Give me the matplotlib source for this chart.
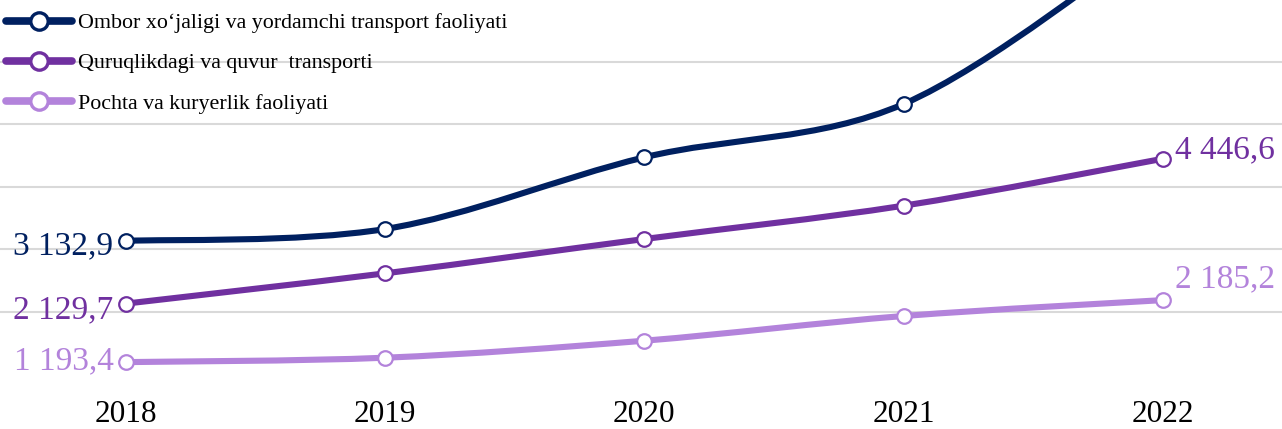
import numpy as np
import matplotlib.pyplot as plt
from matplotlib.path import Path
from matplotlib.patches import PathPatch
from matplotlib.lines import Line2D

years = [2018, 2019, 2020, 2021, 2022]
ombor = [3132.9, 3323, 4470, 5323, 8050]
quruqlik = [2129.7, 2614, 3163, 3696, 4446.6]
pochta = [1193.4, 1264, 1536, 1931, 2185.2]

names = ["Ombor xo\u2018jaligi va yordamchi transport faoliyati",
         "Quruqlikdagi va quvur  transporti",
         "Pochta va kuryerlik faoliyati"]
colors = ["#002060", "#7030A0", "#B383DB"]

plt.rcParams['font.family'] = ['Liberation Serif', 'DejaVu Serif']


def smooth_path(x, y):
    # catmull-rom style bezier, like excel's smoothed line
    p = np.column_stack([x, y]).astype(float)
    n = len(p)
    verts = [p[0]]
    codes = [Path.MOVETO]
    for i in range(n - 1):
        prev = p[max(i - 1, 0)]
        nxt = p[min(i + 2, n - 1)]
        c1 = p[i] + (p[i + 1] - prev) / 6
        c2 = p[i + 1] - (nxt - p[i]) / 6
        verts += [c1, c2, p[i + 1]]
        codes += [Path.CURVE4] * 3
    return Path(verts, codes)


fig = plt.figure(figsize=(12.82, 4.29), dpi=100)
ax = fig.add_axes([0, 54.8 / 429, 1, 374.2 / 429])
ax.set_xlim(2018 - 126 / 259.2, 2022 + 119.3 / 259.2)
ax.set_ylim(1000, 6987)

for v in [2000, 3000, 4000, 5000, 6000]:
    ax.axhline(v, color="#D9D9D9", lw=1.5, zorder=0)

handles = []
for vals, c, name in zip([ombor, quruqlik, pochta], colors, names):
    ax.add_patch(PathPatch(smooth_path(years, vals), fill=False, edgecolor=c,
                           lw=4.4, capstyle='round', zorder=2))
    ax.plot(years, vals, 'o', ms=10.5, mfc='white', mec=c, mew=1.6, zorder=3)
    handles.append(Line2D([], [], color=c, lw=5.5, marker='o', ms=12.5,
                          mfc='white', mec=c, mew=2.4, solid_capstyle='round'))

lbl = dict(fontsize=24)
ax.annotate("3 132,9", (years[0], ombor[0]), xytext=(-9, -1), textcoords='offset points',
            ha='right', va='center_baseline', color=colors[0], **lbl)
ax.annotate("2 129,7", (years[0], quruqlik[0]), xytext=(-9, -2), textcoords='offset points',
            ha='right', va='center_baseline', color=colors[1], **lbl)
ax.annotate("1 193,4", (years[0], pochta[0]), xytext=(-9, 3), textcoords='offset points',
            ha='right', va='center_baseline', color=colors[2], **lbl)
ax.annotate("4 446,6", (years[4], quruqlik[4]), xytext=(9, 0), textcoords='offset points',
            ha='left', va='baseline', color=colors[1], **lbl)
ax.annotate("2 185,2", (years[4], pochta[4]), xytext=(9, 9), textcoords='offset points',
            ha='left', va='baseline', color=colors[2], **lbl)

ax.set_xticks(years)
ax.set_xticklabels([str(y) for y in years], fontsize=22.5)
ax.tick_params(axis='x', length=0, pad=18.5)
ax.set_yticks([])
for s in ax.spines.values():
    s.set_visible(False)

leg = fig.legend(handles, names, loc='upper left', bbox_to_anchor=(6 / 1282, 1 - 13 / 429),
                 frameon=False, fontsize=15.8, handlelength=3.0, handletextpad=0.3,
                 labelspacing=0.9, borderpad=0, borderaxespad=0)

fig.savefig("out.png", dpi=100)
